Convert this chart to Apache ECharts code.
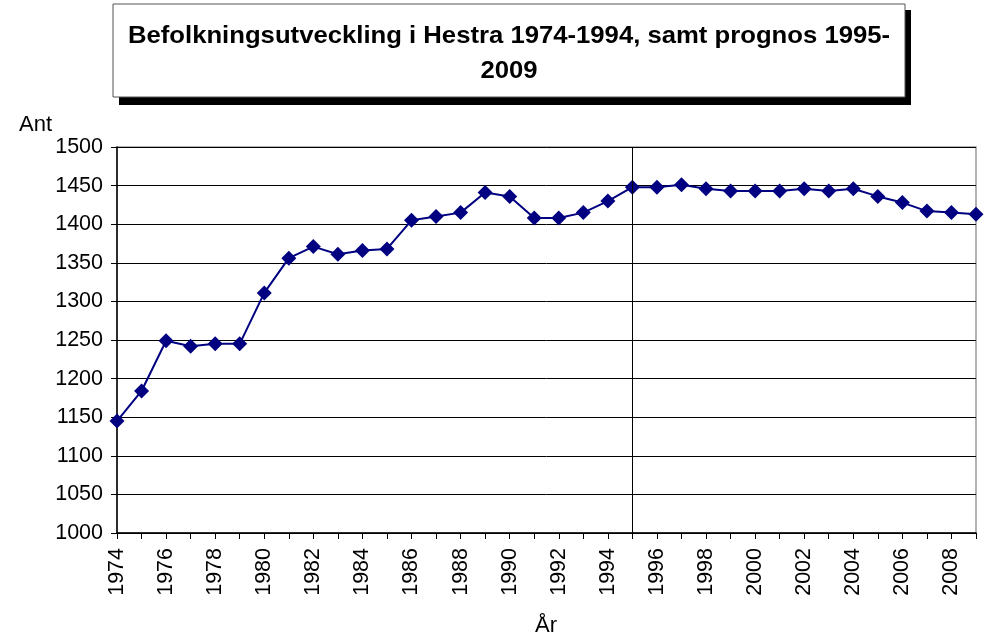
<!DOCTYPE html>
<html><head><meta charset="utf-8">
<script src="https://cdn.jsdelivr.net/npm/echarts@6/dist/echarts.min.js"></script>
<style>html,body{margin:0;padding:0;background:#fff}#c{width:987px;height:637px}</style>
</head><body><div id="c"></div>
<script>
const years = ['1974','1975','1976','1977','1978','1979','1980','1981','1982','1983','1984','1985','1986','1987','1988','1989','1990','1991','1992','1993','1994','1995','1996','1997','1998','1999','2000','2001','2002','2003','2004','2005','2006','2007','2008','2009'];
const population = [1145,1184,1249,1242,1245,1245,1311,1356,1371,1361,1366,1368,1405,1410,1415,1441,1436,1408,1408,1415,1430,1448,1448,1451,1446,1443,1443,1443,1446,1443,1446,1436,1428,1417,1415,1413];
const titleText = 'Befolkningsutveckling i Hestra 1974-1994, samt prognos 1995-\n2009';
const yName = 'Ant';
const xName = 'År';
const dividerYear = '1995';

const chart = echarts.init(document.getElementById('c'), null, {renderer:'canvas'});
const font = 'Arial, "Liberation Sans", sans-serif';
chart.setOption({
  animation:false,
  backgroundColor:'#fff',
  grid:{left:117,right:11,top:147,bottom:104,show:true,borderColor:'#999',borderWidth:1.5,backgroundColor:'transparent'},
  xAxis:{type:'category',data:years,boundaryGap:false,
    axisLine:{lineStyle:{color:'#000',width:1.5}},
    axisTick:{show:true,interval:0,length:6,lineStyle:{color:'#000',width:1}},
    axisLabel:{interval:1,rotate:90,margin:15,color:'#000',fontSize:21.5,fontFamily:font},
    splitLine:{show:false}},
  yAxis:{type:'value',min:1000,max:1500,interval:50,
    axisLine:{show:true,lineStyle:{color:'#000',width:1.5}},
    axisTick:{show:true,length:6,lineStyle:{color:'#000'}},
    axisLabel:{margin:14,color:'#000',fontSize:21.5,fontFamily:font,formatter:v=>String(v)},
    splitLine:{show:true,lineStyle:{color:'#000',width:1}}},
  series:[{type:'line',data:population,symbol:'diamond',symbolSize:15,
    lineStyle:{color:'#000080',width:2},itemStyle:{color:'#000080'},
    markLine:{silent:true,symbol:'none',label:{show:false},lineStyle:{color:'#000',width:1,type:'solid'},data:[{xAxis:dividerYear}]}}],
  graphic:[
    {type:'rect',shape:{x:119,y:10,width:792,height:95},style:{fill:'#000'}},
    {type:'rect',shape:{x:113,y:4,width:792,height:93},style:{fill:'#fff',stroke:'#555',lineWidth:1}},
    {type:'text',x:509,y:54,scaleX:1.07,style:{text:titleText,font:'bold 24px '+font,fill:'#000',align:'center',verticalAlign:'middle',lineHeight:35}},
    {type:'text',x:19,y:125,style:{text:yName,font:'22px '+font,fill:'#000',verticalAlign:'middle'}},
    {type:'text',x:546,y:626,style:{text:xName,font:'22px '+font,fill:'#000',align:'center',verticalAlign:'middle'}}
  ]
});
</script></body></html>
